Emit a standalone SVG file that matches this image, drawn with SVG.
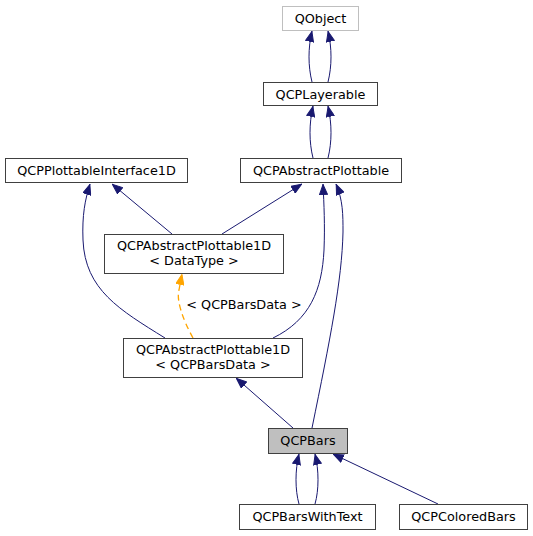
<svg xmlns="http://www.w3.org/2000/svg" width="533" height="536" viewBox="0 0 533 536">
<style>
.n rect{fill:#fff;stroke:#404040;stroke-width:1}
.n text{font-family:"DejaVu Sans",sans-serif;font-size:12.8px;fill:#000;text-anchor:middle}
.e path{fill:none;stroke:#191970;stroke-width:1}
.e path.t{stroke:#ffa500;stroke-width:1.3;stroke-dasharray:6,4}
.lbl{font-family:"DejaVu Sans",sans-serif;font-size:12.8px;fill:#000;text-anchor:middle}
</style>
<defs>
<marker id="a" viewBox="0 0 11 9" refX="11" refY="4.5" markerWidth="11" markerHeight="9" markerUnits="userSpaceOnUse" orient="auto"><path d="M0.5,0.5L10.5,4.5L0.5,8.5z" fill="#191970" stroke="#191970"/></marker>
<marker id="o" viewBox="0 0 11 9" refX="11" refY="4.5" markerWidth="11" markerHeight="9" markerUnits="userSpaceOnUse" orient="auto"><path d="M0.5,0.5L10.5,4.5L0.5,8.5z" fill="#ffa500" stroke="#ffa500"/></marker>
</defs>
<rect width="533" height="536" fill="#fff"/>
<g class="e" id="edges">
<path d="M312,82C308,66 308,48 312,31" marker-end="url(#a)"/>
<path d="M328,82C332,66 332,48 328,31" marker-end="url(#a)"/>
<path d="M313,158C309,142 309,124 313,106" marker-end="url(#a)"/>
<path d="M328,158C332,142 332,124 328,106" marker-end="url(#a)"/>
<path d="M172,234L112,184" marker-end="url(#a)"/>
<path d="M222,234L302,184" marker-end="url(#a)"/>
<path d="M165,338C120,310 85,290 83,240C82,215 85,200 90,184" marker-end="url(#a)"/>
<path d="M273,338C310,320 322,290 324,250C325,225 324,205 323,184" marker-end="url(#a)"/>
<path d="M312,428C330,340 342,280 343,232C343,215 343,200 336,184" marker-end="url(#a)"/>
<path class="t" d="M193,338C183,320 176,300 179,290C180,284 181,279 182,274" marker-end="url(#o)"/>
<path d="M293,428L236,378" marker-end="url(#a)"/>
<path d="M299,504C295,490 295,470 299,454" marker-end="url(#a)"/>
<path d="M315,504C319,490 319,470 315,454" marker-end="url(#a)"/>
<path d="M438,504L333,454" marker-end="url(#a)"/>
<text class="lbl" x="244" y="309">&lt; QCPBarsData &gt;</text>
</g>
<g class="n" id="QObject"><rect x="282.5" y="6.5" width="76" height="24" style="stroke:#bfbfbf"/><text x="320.5" y="23">QObject</text></g>
<g class="n" id="QCPLayerable"><rect x="263.5" y="82.5" width="114" height="23"/><text x="320.5" y="99">QCPLayerable</text></g>
<g class="n" id="QCPPlottableInterface1D"><rect x="5.5" y="158.5" width="182" height="24"/><text x="96.5" y="175">QCPPlottableInterface1D</text></g>
<g class="n" id="QCPAbstractPlottable"><rect x="240.5" y="158.5" width="161" height="24"/><text x="321" y="175">QCPAbstractPlottable</text></g>
<g class="n" id="QCPAbstractPlottable1D_DataType"><rect x="104.5" y="234.5" width="179" height="39"/><text x="194" y="250">QCPAbstractPlottable1D</text><text x="194" y="265">&lt; DataType &gt;</text></g>
<g class="n" id="QCPAbstractPlottable1D_QCPBarsData"><rect x="123.5" y="338.5" width="179" height="39"/><text x="213" y="354">QCPAbstractPlottable1D</text><text x="213" y="369">&lt; QCPBarsData &gt;</text></g>
<g class="n" id="QCPBars"><rect x="268.5" y="428.5" width="79" height="25" style="fill:#bfbfbf"/><text x="308" y="445">QCPBars</text></g>
<g class="n" id="QCPBarsWithText"><rect x="239.5" y="504.5" width="136" height="25"/><text x="307.5" y="521">QCPBarsWithText</text></g>
<g class="n" id="QCPColoredBars"><rect x="399.5" y="504.5" width="128" height="25"/><text x="463.5" y="521">QCPColoredBars</text></g>
</svg>
